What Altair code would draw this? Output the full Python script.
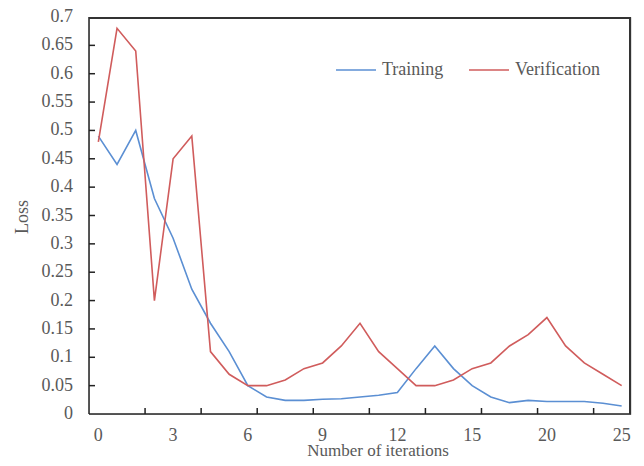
import altair as alt
import pandas as pd

iterations = list(range(29))
training = [0.49, 0.44, 0.50, 0.38, 0.31, 0.22, 0.16, 0.11, 0.05, 0.03, 0.024, 0.024,
            0.026, 0.027, 0.03, 0.033, 0.038, 0.08, 0.12, 0.08, 0.05, 0.03, 0.02, 0.024,
            0.022, 0.022, 0.022, 0.019, 0.014]
verification = [0.48, 0.68, 0.64, 0.20, 0.45, 0.49, 0.11, 0.07, 0.05, 0.05, 0.06, 0.08,
                0.09, 0.12, 0.16, 0.11, 0.08, 0.05, 0.05, 0.06, 0.08, 0.09, 0.12, 0.14,
                0.17, 0.12, 0.09, 0.07, 0.05]
series_names = ["Training", "Verification"]
series_colors = ["#5B8FD3", "#D05C5C"]

x_label_positions = [0, 4, 8, 12, 16, 20, 24, 28]
x_label_texts = ["0", "3", "6", "9", "12", "15", "20", "25"]
x_tick_positions = [2.5, 5.5, 8.5, 11.5, 14.5, 17.5, 20.5, 23.5, 26.5]
y_tick_values = [0, 0.05, 0.1, 0.15, 0.2, 0.25, 0.3, 0.35, 0.4, 0.45, 0.5, 0.55, 0.6,
                 0.65, 0.7]
y_tick_labels = ["0", "0.05", "0.1", "0.15", "0.2", "0.25", "0.3", "0.35", "0.4",
                 "0.45", "0.5", "0.55", "0.6", "0.65", "0.7"]
x_range = [-0.5, 28.5]
y_range = [0, 0.7]

FONT = "Liberation Serif"
GRAY = "#595959"
FS = 18
W, H = 542, 397

df = pd.DataFrame({
    "iter": iterations * 2,
    "loss": training + verification,
    "series": ["Training"] * len(training) + ["Verification"] * len(verification),
})

xscale = alt.Scale(domain=x_range, nice=False, zero=False)
yscale = alt.Scale(domain=y_range, nice=False)

lines = alt.Chart(df).mark_line(strokeWidth=1.6).encode(
    x=alt.X("iter:Q", scale=xscale, axis=None),
    y=alt.Y("loss:Q", scale=yscale, axis=None),
    color=alt.Color("series:N", scale=alt.Scale(domain=series_names, range=series_colors),
                    legend=alt.Legend(orient="none", legendX=246, legendY=32,
                                      direction="horizontal", title=None,
                                      symbolType="stroke", symbolSize=1600,
                                      symbolStrokeWidth=1.6, columnPadding=21,
                                      labelOffset=5, labelFont=FONT, labelFontSize=FS,
                                      labelColor=GRAY)),
)

xlab = alt.Chart(pd.DataFrame({"p": x_label_positions, "t": x_label_texts})).mark_text(
    font=FONT, fontSize=FS, color=GRAY, baseline="alphabetic", align="center").encode(
    x=alt.X("p:Q", scale=xscale, axis=None), y=alt.value(H + 27), text="t:N")

ylab = alt.Chart(pd.DataFrame({"v": y_tick_values, "t": y_tick_labels})).mark_text(
    font=FONT, fontSize=FS, color=GRAY, baseline="middle", align="right").encode(
    y=alt.Y("v:Q", scale=yscale, axis=None), x=alt.value(-16), text="t:N")

xticks = alt.Chart(pd.DataFrame({"t": x_tick_positions})).mark_rule(
    color="#222222", strokeWidth=1.5).encode(
    x=alt.X("t:Q", scale=xscale, axis=None),
    y=alt.value(H), y2=alt.value(H - 6))

yticks = alt.Chart(pd.DataFrame({"v": y_tick_values[1:-1]})).mark_rule(
    color="#222222", strokeWidth=1.5).encode(
    y=alt.Y("v:Q", scale=yscale, axis=None),
    x=alt.value(0), x2=alt.value(6))

frame_left = alt.Chart(pd.DataFrame({"t": [x_range[0]]})).mark_rule(
    color="#222222", strokeWidth=1.5).encode(
    x=alt.X("t:Q", scale=xscale, axis=None), y=alt.value(0), y2=alt.value(H))

frame_bottom = alt.Chart(pd.DataFrame({"v": [y_range[0]]})).mark_rule(
    color="#222222", strokeWidth=1.5).encode(
    y=alt.Y("v:Q", scale=yscale, axis=None), x=alt.value(0), x2=alt.value(W))

frame_top = alt.Chart(pd.DataFrame({"v": [y_range[1]]})).mark_rule(
    color="#333333", strokeWidth=2).encode(
    y=alt.value(1), x=alt.value(0), x2=alt.value(W), detail="v:Q")

frame_right = alt.Chart(pd.DataFrame({"t": [x_range[1]]})).mark_rule(
    color="#333333", strokeWidth=2).encode(
    x=alt.value(W - 1), y=alt.value(0), y2=alt.value(H), detail="t:Q")

xtitle = alt.Chart(pd.DataFrame({"t": ["Number of iterations"]})).mark_text(
    font=FONT, fontSize=17, color=GRAY, baseline="alphabetic", align="center").encode(
    x=alt.value(289), y=alt.value(H + 42), text="t:N")

ytitle = alt.Chart(pd.DataFrame({"t": ["Loss"]})).mark_text(
    font=FONT, fontSize=FS, color=GRAY, baseline="middle", align="center",
    angle=270).encode(
    x=alt.value(-66), y=alt.value(200), text="t:N")

chart = alt.layer(lines, xlab, ylab, xticks, yticks, frame_left, frame_bottom,
                  frame_top, frame_right, xtitle, ytitle).properties(
    width=W, height=H,
    autosize=alt.AutoSizeParams(type="none"),
    padding={"left": 81, "top": 9, "right": 4, "bottom": 44},
).configure_view(stroke=None).configure(background="white")

chart.save("out.html", embed_options={"renderer": "svg", "actions": False})
